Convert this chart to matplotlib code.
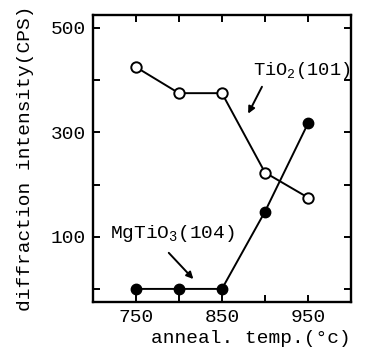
import numpy as np
import matplotlib.pyplot as plt

plt.rcParams['font.family'] = ['Liberation Mono', 'DejaVu Sans Mono']
plt.rcParams['mathtext.fontset'] = 'custom'
plt.rcParams['mathtext.rm'] = 'Liberation Mono'

temps = [750, 800, 850, 900, 950]
tio2 = [425, 375, 375, 223, 175]
mgtio3 = [0, 0, 0, 148, 317]

fig = plt.figure(figsize=(3.73, 3.54), dpi=100)
ax = fig.add_axes([0.249, 0.147, 0.692, 0.811])

ax.plot(temps, tio2, '-o', color='black', mfc='white', mec='black',
        ms=7.5, lw=1.4, mew=1.4)
ax.plot(temps, mgtio3, '-o', color='black', ms=7.5, lw=1.4)

ax.set_xlim(700, 1000)
ax.set_ylim(-25, 525)
ax.set_xticks([750, 800, 850, 900, 950])
ax.set_xticklabels(['750', '', '850', '', '950'])
ax.set_yticks([0, 100, 200, 300, 400, 500])
ax.set_yticklabels(['', '100', '', '300', '', '500'])
ax.tick_params(direction='in', top=True, right=True, length=5, width=1.4,
               labelsize=14, pad=5)
for s in ax.spines.values():
    s.set_linewidth(1.7)

ax.set_xlabel('anneal. temp.(°c)', fontsize=14, loc='right', labelpad=3)
ax.set_ylabel('diffraction intensity(CPS)', fontsize=14, labelpad=12)

ax.text(886, 419, 'TiO$_2$(101)', fontsize=13.5, va='center', ha='left')
ax.annotate('', xy=(879, 331), xytext=(898, 392),
            arrowprops=dict(arrowstyle='-|>', color='black', lw=1.4,
                            mutation_scale=10))
ax.text(720, 106, 'MgTiO$_3$(104)', fontsize=14, va='center', ha='left')
ax.annotate('', xy=(819, 15), xytext=(786, 73),
            arrowprops=dict(arrowstyle='-|>', color='black', lw=1.4,
                            mutation_scale=10))

fig.savefig('out.png', dpi=100)
